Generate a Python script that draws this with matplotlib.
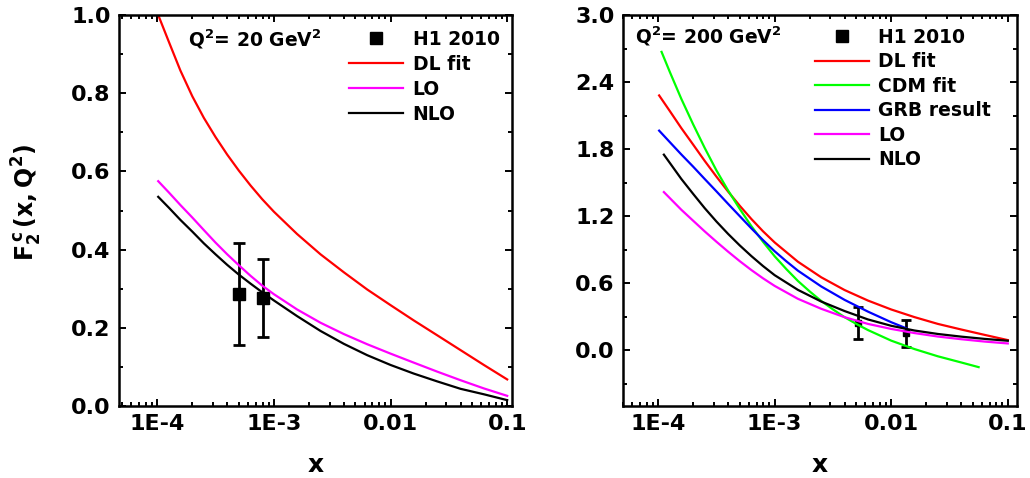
import matplotlib
matplotlib.use("Agg")
import matplotlib.pyplot as plt
from matplotlib.ticker import MultipleLocator, FormatStrFormatter, LogLocator

plt.rcParams['font.family'] = ['DejaVu Sans']
plt.rcParams['font.weight'] = 'bold'
plt.rcParams['axes.labelweight'] = 'bold'
plt.rcParams['mathtext.fontset'] = 'dejavusans'
plt.rcParams['mathtext.default'] = 'bf'

# Q^2 = 20 GeV^2
x20 = [1.02e-4, 1.26e-4, 1.58e-4, 2e-4, 2.51e-4, 3.16e-4, 3.98e-4, 5.01e-4, 6.31e-4, 7.94e-4, 1e-3,
       1.58e-3, 2.51e-3, 3.98e-3, 6.31e-3, 0.01, 0.0158, 0.0251, 0.0398, 0.0631, 0.1]
dl20 = [1.0, 0.931, 0.858, 0.792, 0.737, 0.688, 0.643, 0.602, 0.564, 0.529, 0.497,
        0.44, 0.388, 0.342, 0.298, 0.258, 0.219, 0.181, 0.143, 0.105, 0.068]
lo20 = [0.575, 0.546, 0.514, 0.482, 0.45, 0.418, 0.388, 0.36, 0.333, 0.308, 0.286,
        0.247, 0.213, 0.184, 0.158, 0.134, 0.111, 0.088, 0.066, 0.045, 0.026]
nlo20 = [0.535, 0.507, 0.476, 0.446, 0.416, 0.388, 0.361, 0.336, 0.313, 0.291, 0.27,
         0.23, 0.192, 0.159, 0.13, 0.105, 0.083, 0.063, 0.044, 0.03, 0.015]
h1_x20 = [5e-4, 8e-4]
h1_y20 = [0.286, 0.277]
h1_e20 = [0.13, 0.10]

# Q^2 = 200 GeV^2
x_dl = [1.02e-4, 1.26e-4, 1.58e-4, 2e-4, 2.51e-4, 3.16e-4, 3.98e-4, 5.01e-4, 6.31e-4, 7.94e-4, 1e-3,
        1.58e-3, 2.51e-3, 3.98e-3, 6.31e-3, 0.01, 0.0158, 0.0251, 0.0398, 0.0631, 0.1]
dl200 = [2.28, 2.14, 1.988, 1.839, 1.694, 1.554, 1.42, 1.293, 1.174, 1.064, 0.964,
         0.792, 0.652, 0.538, 0.444, 0.364, 0.296, 0.235, 0.185, 0.137, 0.09]
x_cdm = [1.07e-4, 1.26e-4, 1.58e-4, 2e-4, 2.51e-4, 3.16e-4, 3.98e-4, 5.01e-4, 6.31e-4, 7.94e-4, 1e-3,
         1.26e-3, 1.58e-3, 2e-3, 2.51e-3, 3.16e-3, 3.98e-3, 5.01e-3, 6.31e-3, 0.01, 0.0158,
         0.0251, 0.0398, 0.0562]
cdm200 = [2.67, 2.49, 2.25, 2.02, 1.81, 1.61, 1.43, 1.265, 1.11, 0.97, 0.84,
          0.725, 0.62, 0.525, 0.44, 0.365, 0.295, 0.235, 0.18, 0.085, 0.01,
          -0.055, -0.11, -0.152]
x_grb = [1.02e-4, 1.26e-4, 1.58e-4, 2e-4, 2.51e-4, 3.16e-4, 3.98e-4, 5.01e-4, 6.31e-4, 7.94e-4, 1e-3,
         1.26e-3, 1.58e-3, 2.51e-3, 3.98e-3, 6.31e-3, 0.01, 0.0135]
grb200 = [1.965, 1.862, 1.752, 1.642, 1.532, 1.422, 1.31, 1.20, 1.09, 0.985, 0.885,
          0.795, 0.712, 0.57, 0.45, 0.345, 0.25, 0.195]
x_th = [1.12e-4, 1.26e-4, 1.58e-4, 2e-4, 2.51e-4, 3.16e-4, 3.98e-4, 5.01e-4, 6.31e-4, 7.94e-4, 1e-3,
        1.58e-3, 2.51e-3, 3.98e-3, 6.31e-3, 0.01, 0.0158, 0.0251, 0.0398, 0.0631, 0.1]
lo200 = [1.415, 1.361, 1.257, 1.158, 1.063, 0.971, 0.882, 0.797, 0.717, 0.643, 0.575,
         0.46, 0.37, 0.295, 0.235, 0.19, 0.153, 0.122, 0.098, 0.077, 0.06]
nlo200 = [1.75, 1.676, 1.533, 1.398, 1.271, 1.152, 1.041, 0.938, 0.842, 0.753, 0.671,
          0.54, 0.435, 0.35, 0.275, 0.218, 0.176, 0.145, 0.121, 0.101, 0.084]
h1_x200 = [5.2e-3, 0.0134]
h1_y200 = [0.24, 0.15]
h1_e200 = [0.143, 0.122]

xticks = [1e-4, 1e-3, 1e-2, 1e-1]
xticklabels = ['1E-4', '1E-3', '0.01', '0.1']

fig = plt.figure(figsize=(10.3, 4.78), dpi=100)
ax1 = fig.add_axes([0.1155, 0.1506, 0.3816, 0.818])
ax2 = fig.add_axes([0.6049, 0.1506, 0.3825, 0.818])

lw = 1.6
leg_kw = dict(loc='upper left', frameon=False, fontsize=13.5, handlelength=2.9,
              handletextpad=0.5, borderpad=0, borderaxespad=0)


def style(ax):
    ax.set_xscale('log')
    ax.set_xticks(xticks)
    ax.set_xticklabels(xticklabels)
    ax.xaxis.set_minor_locator(LogLocator(base=10, subs=range(2, 10)))
    ax.tick_params(which='both', direction='in', top=True, right=True,
                   labelsize=16, width=1.4)
    ax.tick_params(which='major', length=5, pad=6)
    ax.tick_params(which='minor', length=3)
    ax.yaxis.set_major_formatter(FormatStrFormatter('%.1f'))
    for s in ax.spines.values():
        s.set_linewidth(1.8)
    ax.set_xlabel('x', fontsize=18)
    ax.xaxis.set_label_coords(0.5, -0.12)


# left panel
ax1.errorbar(h1_x20, h1_y20, yerr=h1_e20, fmt='none', ecolor='k', elinewidth=2,
             capsize=4.3, capthick=2)
ax1.plot(h1_x20, h1_y20, 's', color='k', ms=8, label='H1 2010')
ax1.plot(x20, dl20, color='#ff0000', lw=lw, label='DL fit')
ax1.plot(x20, lo20, color='#ff00ff', lw=lw, label='LO')
ax1.plot(x20, nlo20, color='k', lw=lw, label='NLO')
ax1.set_xlim(4.7e-5, 0.11)
ax1.set_ylim(0, 1.0)
ax1.yaxis.set_major_locator(MultipleLocator(0.2))
ax1.yaxis.set_minor_locator(MultipleLocator(0.1))
style(ax1)
ax1.set_ylabel(r'$F_2^{\,c}\,(x,Q^2)$', fontsize=17)
ax1.yaxis.set_label_coords(-0.19, 0.52)
ax1.text(0.176, 0.939, r'Q$^2$= 20 GeV$^2$', transform=ax1.transAxes,
         fontsize=13.5, va='center')
ax1.legend(bbox_to_anchor=(0.585, 0.962), markerscale=1.15, labelspacing=0.32, **leg_kw)

# right panel
ax2.errorbar(h1_x200, h1_y200, yerr=h1_e200, fmt='none', ecolor='k', elinewidth=2,
             capsize=3.6, capthick=2)
ax2.plot(h1_x200, h1_y200, 's', color='k', ms=5, label='H1 2010')
ax2.plot(x_dl, dl200, color='#ff0000', lw=lw, label='DL fit')
ax2.plot(x_cdm, cdm200, color='#00ff00', lw=lw, label='CDM fit')
ax2.plot(x_grb, grb200, color='#0000ff', lw=lw, label='GRB result')
ax2.plot(x_th, lo200, color='#ff00ff', lw=lw, label='LO')
ax2.plot(x_th, nlo200, color='k', lw=lw, label='NLO')
ax2.set_xlim(5e-5, 0.12)
ax2.set_ylim(-0.5, 3.0)
ax2.yaxis.set_major_locator(MultipleLocator(0.6))
ax2.yaxis.set_minor_locator(MultipleLocator(0.3))
style(ax2)
ax2.text(0.030, 0.946, r'Q$^2$= 200 GeV$^2$', transform=ax2.transAxes,
         fontsize=13.5, va='center')
ax2.legend(bbox_to_anchor=(0.486, 0.967), markerscale=1.8, labelspacing=0.29, **leg_kw)

fig.savefig('out.png', dpi=100)
